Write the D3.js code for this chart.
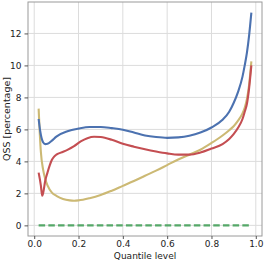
<!DOCTYPE html>
<html><head><meta charset="utf-8">
<script src="https://cdn.jsdelivr.net/npm/d3@7"></script>
<style>body{margin:0;background:#fff}svg{display:block}text{font-family:"DejaVu Sans",sans-serif}</style>
</head><body><svg id="c" width="266" height="262"></svg>
<script>
const blueQ = [0.02,0.027,0.04,0.05,0.06,0.08,0.10,0.15,0.20,0.25,0.30,0.35,0.40,0.45,0.50,0.55,0.60,0.65,0.70,0.75,0.80,0.85,0.88,0.90,0.92,0.94,0.95,0.96,0.97,0.98];
const blueV = [6.65,5.9,5.2,5.08,5.1,5.3,5.55,5.88,6.05,6.15,6.15,6.08,5.98,5.8,5.62,5.52,5.47,5.5,5.6,5.8,6.12,6.6,7.1,7.65,8.35,9.3,10.0,10.8,11.9,13.3];
const redQ = [0.02,0.03,0.036,0.04,0.05,0.06,0.07,0.08,0.09,0.10,0.12,0.15,0.18,0.21,0.24,0.27,0.30,0.35,0.40,0.45,0.50,0.55,0.60,0.65,0.70,0.75,0.80,0.85,0.88,0.90,0.92,0.94,0.95,0.96,0.97,0.98];
const redV = [3.3,2.5,1.85,2.0,2.8,3.3,3.75,4.1,4.3,4.42,4.55,4.72,4.95,5.25,5.45,5.54,5.52,5.35,5.1,4.92,4.76,4.62,4.5,4.42,4.42,4.55,4.8,5.08,5.4,5.7,6.1,6.65,7.1,7.6,8.6,10.0];
const yellowQ = [0.02,0.03,0.04,0.05,0.06,0.08,0.10,0.13,0.16,0.18,0.20,0.25,0.30,0.35,0.40,0.45,0.50,0.55,0.60,0.65,0.70,0.75,0.80,0.85,0.88,0.90,0.92,0.94,0.95,0.96,0.97,0.98];
const yellowV = [7.3,4.6,3.5,2.9,2.5,2.05,1.85,1.65,1.56,1.54,1.56,1.7,1.9,2.17,2.47,2.77,3.1,3.42,3.77,4.12,4.42,4.73,5.15,5.62,5.95,6.2,6.55,7.0,7.35,7.9,8.8,10.25];
const greenQ = [0.02,0.98];
const greenV = [0,0];
const xTicks = [0,0.2,0.4,0.6,0.8,1.0];
const yTicks = [0,2,4,6,8,10,12];
const colors = {blue:"#4C72B0", red:"#C44E52", yellow:"#CCB974", green:"#55A868"};

const L=28,R=262,T=2,B=236;
const svg=d3.select("#c");
const x=d3.scaleLinear().domain([-0.028,1.028]).range([L,R]);
const y=d3.scaleLinear().domain([-0.665,13.965]).range([B,T]);

// grid
svg.append("g").selectAll("line").data(xTicks).join("line")
 .attr("x1",d=>x(d)).attr("x2",d=>x(d)).attr("y1",T).attr("y2",B)
 .attr("stroke","#dcdcdc").attr("stroke-width",1);
svg.append("g").selectAll("line").data(yTicks).join("line")
 .attr("y1",d=>y(d)).attr("y2",d=>y(d)).attr("x1",L).attr("x2",R)
 .attr("stroke","#dcdcdc").attr("stroke-width",1);

const line=d3.line().x(d=>x(d[0])).y(d=>y(d[1])).curve(d3.curveMonotoneX);
function series(q,v,c,dash){
  svg.append("path").datum(q.map((d,i)=>[d,v[i]])).attr("d",line)
   .attr("fill","none").attr("stroke",c).attr("stroke-width",2.1)
   .attr("stroke-dasharray",dash||null);
}
series(greenQ,greenV,colors.green,"6.5,3.2");
series(yellowQ,yellowV,colors.yellow);
series(redQ,redV,colors.red);
series(blueQ,blueV,colors.blue);

// frame
svg.append("rect").attr("x",L).attr("y",T).attr("width",R-L).attr("height",B-T)
 .attr("fill","none").attr("stroke","#9a9a9a").attr("stroke-width",1);

// axes
const xa=svg.append("g").attr("transform",`translate(0,${B})`)
 .call(d3.axisBottom(x).tickValues(xTicks).tickFormat(d3.format(".1f")).tickSize(3).tickPadding(1.5));
const ya=svg.append("g").attr("transform",`translate(${L},0)`)
 .call(d3.axisLeft(y).tickValues(yTicks).tickFormat(d3.format("d")).tickSize(3.5).tickPadding(3));
[xa,ya].forEach(a=>{a.select(".domain").remove();
 a.selectAll("line").attr("stroke","#555");
 a.selectAll("text").attr("font-size",9).attr("fill","#222").attr("font-family","DejaVu Sans");});

svg.append("text").attr("x",(L+R)/2).attr("y",258.5).attr("text-anchor","middle")
 .attr("font-size",9).attr("fill","#222").text("Quantile level");
svg.append("text").attr("transform",`translate(9.5,${(T+B)/2}) rotate(-90)`).attr("text-anchor","middle")
 .attr("font-size",9.5).attr("fill","#222").text("QSS [percentage]");
</script></body></html>
